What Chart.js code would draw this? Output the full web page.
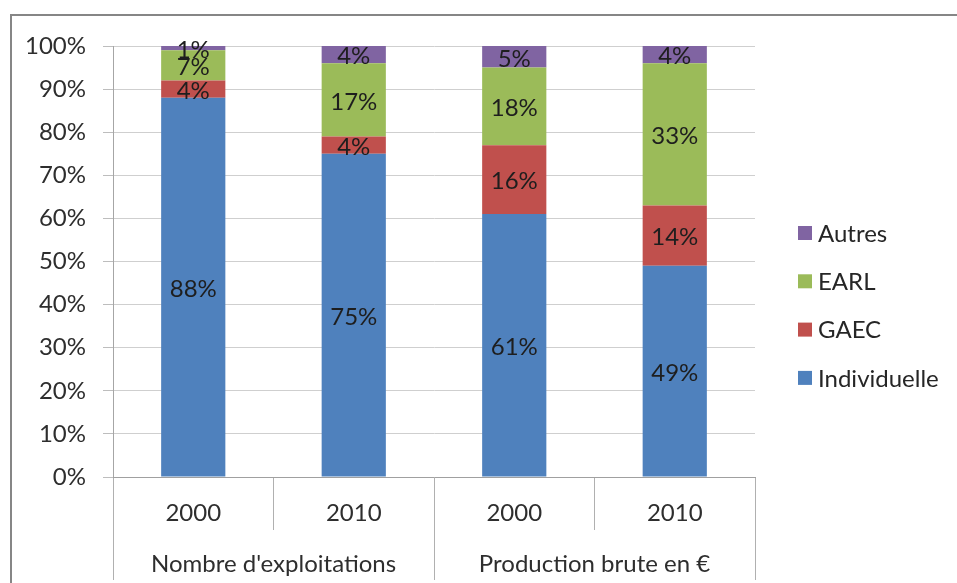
<!DOCTYPE html>
<html>
<head>
<meta charset="utf-8">
<script src="https://cdn.jsdelivr.net/npm/chart.js@4.4.1/dist/chart.umd.min.js"></script>
<style>
  html, body { margin: 0; padding: 0; width: 957px; height: 583px; overflow: hidden; background: #ffffff; }
  #frame { position: absolute; left: 10px; top: 14px; width: 1200px; height: 900px; border: 2px solid #868686; }
  #wrap { position: absolute; left: 0; top: 0; width: 957px; height: 583px; }
</style>
</head>
<body>
<div id="frame"></div>
<div id="wrap"><canvas id="chart" width="957" height="583"></canvas></div>
<script>
// Categories: year within each measure group
const years = ['2000', '2010', '2000', '2010'];
const groups = ["Nombre d'exploitations", 'Production brute en €'];

// Share of each legal form (%)
const individuelle = [88, 75, 61, 49];
const gaec = [4, 4, 16, 14];
const earl = [7, 17, 18, 33];
const autres = [1, 4, 5, 4];

const seriesNames = ['Individuelle', 'GAEC', 'EARL', 'Autres'];
const seriesColors = ['#4F81BD', '#C0504D', '#9BBB59', '#8064A2'];
const yTickStep = 10;

const FONT = 'Lato';
const FONT_SIZE = 24;

// Percent text centred in every stacked segment
const segmentLabels = {
  id: 'segmentLabels',
  afterDatasetsDraw(chart) {
    const ctx = chart.ctx;
    ctx.save();
    ctx.font = `${FONT_SIZE}px ${FONT}`;
    ctx.fillStyle = '#1e1e1e';
    ctx.textAlign = 'center';
    ctx.textBaseline = 'middle';
    chart.data.datasets.forEach((ds, i) => {
      const meta = chart.getDatasetMeta(i);
      meta.data.forEach((bar, j) => {
        const p = bar.getProps(['x', 'y', 'base'], true);
        ctx.fillText(ds.data[j] + '%', p.x, (p.y + p.base) / 2 + 2);
      });
    });
    ctx.restore();
  }
};

// Legend at the right, last series on top
const sideLegend = {
  id: 'sideLegend',
  afterDraw(chart) {
    const ctx = chart.ctx;
    const area = chart.chartArea;
    const x0 = area.right + 43;
    const y0 = 233;
    const step = 48.3;
    ctx.save();
    ctx.font = `${FONT_SIZE}px ${FONT}`;
    ctx.textAlign = 'left';
    ctx.textBaseline = 'middle';
    const items = chart.data.datasets.slice().reverse();
    items.forEach((ds, k) => {
      const y = y0 + k * step;
      ctx.fillStyle = ds.backgroundColor;
      ctx.fillRect(x0, y - 7, 14, 14);
      ctx.fillStyle = '#262626';
      ctx.fillText(ds.label, x0 + 20, y + 1);
    });
    ctx.restore();
  }
};

const seriesValues = [individuelle, gaec, earl, autres];

new Chart(document.getElementById('chart'), {
  type: 'bar',
  data: {
    labels: years,
    datasets: seriesNames.map((name, i) => ({
      label: name,
      data: seriesValues[i],
      backgroundColor: seriesColors[i],
      borderWidth: 0,
      xAxisID: 'x',
      yAxisID: 'y',
      categoryPercentage: 1,
      barPercentage: 0.4
    }))
  },
  options: {
    responsive: false,
    animation: false,
    devicePixelRatio: 1,
    layout: { padding: { top: 46, left: 0, right: 202, bottom: 0 } },
    plugins: {
      legend: { display: false },
      tooltip: { enabled: false }
    },
    scales: {
      y: {
        stacked: true,
        min: 0,
        max: 100,
        ticks: {
          stepSize: yTickStep,
          callback: v => v + '%',
          font: { family: FONT, size: FONT_SIZE },
          color: '#2e2e2e',
          padding: 17
        },
        grid: { color: '#cfcfcf', tickColor: '#bdbdbd', tickLength: 10, lineWidth: 1 },
        border: { display: true, color: '#a6a6a6', width: 1 },
        afterFit(scale) { scale.width = 113; }
      },
      x: {
        stacked: true,
        position: 'bottom',
        weight: 0,
        offset: true,
        ticks: {
          autoSkip: false,
          maxRotation: 0,
          font: { family: FONT, size: FONT_SIZE },
          color: '#2e2e2e',
          padding: -31
        },
        grid: { offset: true, drawOnChartArea: false, tickLength: 53, color: '#b0b0b0', tickColor: '#b0b0b0' },
        border: { display: true, color: '#a0a0a0', width: 1 },
        afterFit(scale) { scale.height = 53; }
      },
      x2: {
        type: 'category',
        labels: groups,
        position: 'bottom',
        weight: 1,
        offset: true,
        ticks: {
          autoSkip: false,
          maxRotation: 0,
          font: { family: FONT, size: FONT_SIZE },
          color: '#2e2e2e',
          padding: -30
        },
        grid: { offset: true, drawOnChartArea: false, tickLength: 50, color: '#b0b0b0', tickColor: '#b0b0b0' },
        border: { display: false },
        afterFit(scale) { scale.height = 53; }
      }
    }
  },
  plugins: [segmentLabels, sideLegend]
});
</script>
</body>
</html>
